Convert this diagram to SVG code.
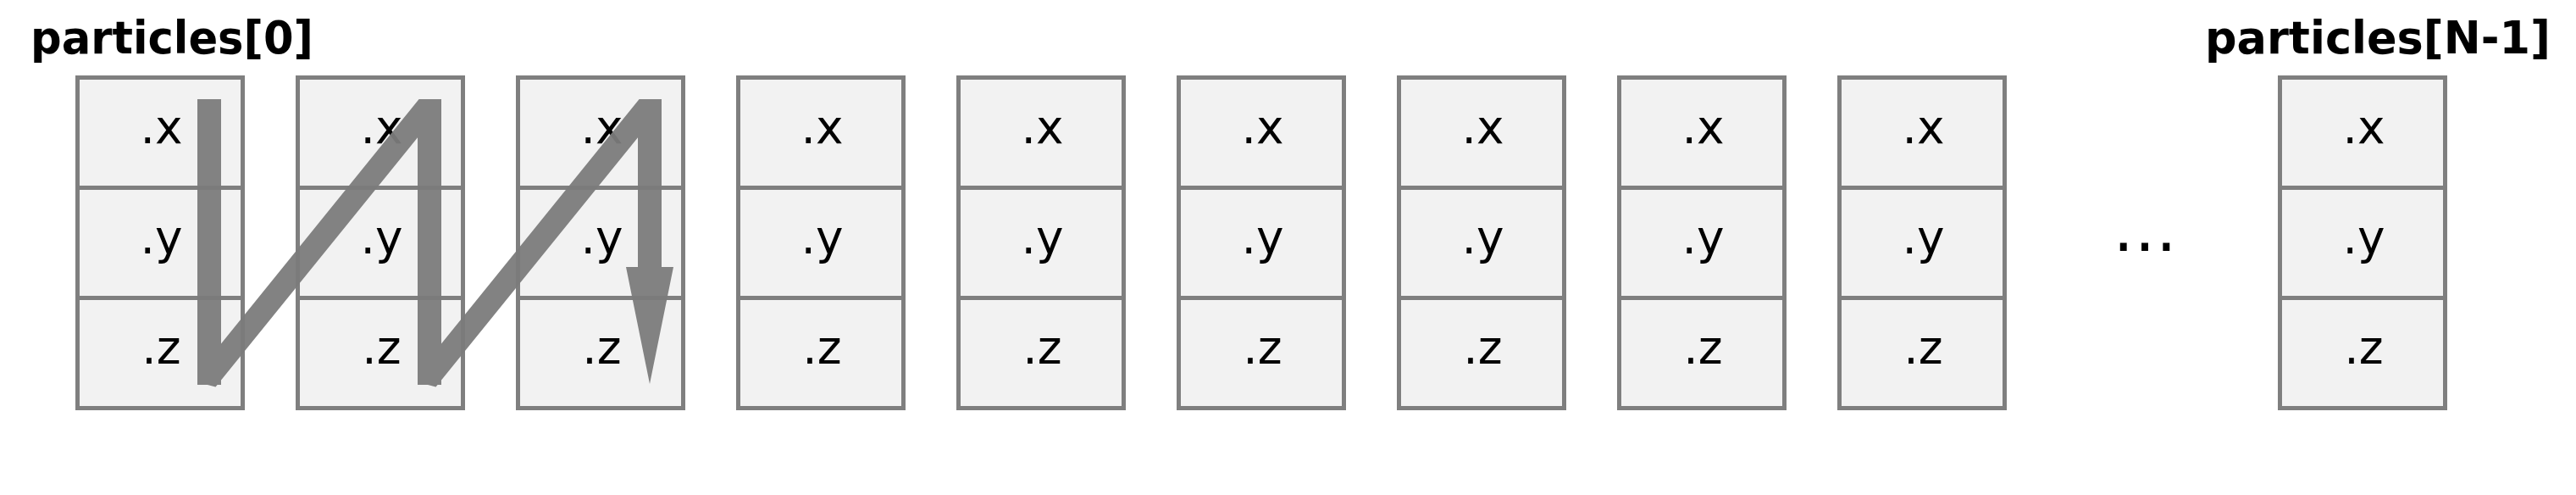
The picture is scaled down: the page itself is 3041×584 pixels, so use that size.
<svg xmlns="http://www.w3.org/2000/svg" width="3041" height="584" viewBox="0 0 3041 584">
<style>
.box{fill:#f2f2f2;stroke:#7f7f7f;stroke-width:5}
.div{stroke:#7f7f7f;stroke-width:5}
.lbl{font-family:"DejaVu Sans",sans-serif;font-size:55px;fill:#000;text-anchor:middle}
.ttl{font-family:"DejaVu Sans",sans-serif;font-size:54px;font-weight:bold;fill:#000}
</style>
<defs>
<g id="cell">
<rect class="box" x="0" y="0" width="195" height="390"/>
<line class="div" x1="0" y1="130" x2="195" y2="130"/>
<line class="div" x1="0" y1="260" x2="195" y2="260"/>
<text class="lbl" x="99" y="77.5">.x</text>
<text class="lbl" x="99" y="207.5">.y</text>
<text class="lbl" x="99" y="337.5">.z</text>
</g>
</defs>
<text class="ttl" x="36" y="63" textLength="334" lengthAdjust="spacingAndGlyphs">particles[0]</text>
<text class="ttl" x="3011" y="63" text-anchor="end" textLength="408" lengthAdjust="spacingAndGlyphs">particles[N-1]</text>
<g id="p0"><use href="#cell" x="91.5" y="91.5"/></g>
<g id="p1"><use href="#cell" x="351.5" y="91.5"/></g>
<g id="p2"><use href="#cell" x="611.5" y="91.5"/></g>
<g id="p3"><use href="#cell" x="871.5" y="91.5"/></g>
<g id="p4"><use href="#cell" x="1131.5" y="91.5"/></g>
<g id="p5"><use href="#cell" x="1391.5" y="91.5"/></g>
<g id="p6"><use href="#cell" x="1651.5" y="91.5"/></g>
<g id="p7"><use href="#cell" x="1911.5" y="91.5"/></g>
<g id="p8"><use href="#cell" x="2171.5" y="91.5"/></g>
<g id="pN"><use href="#cell" x="2691.5" y="91.5"/></g>
<text id="ellipsis" x="2532" y="296" font-family="DejaVu Sans, sans-serif" font-size="76" text-anchor="middle" fill="#000">…</text>
<g id="connectors">
<polygon fill="#7b7b7b" fill-opacity="0.95" points="233,117 261,117 261,405.4 494.6,117 521,117 521,405.4 754.6,117 781,117 781,315 795,315 767,453 739,315 753,315 753,162.2 521,448.6 521,454 516.6,454 514.5,456.5 505,454 493,454 493,162.2 261,448.6 261,454 256.6,454 254.5,456.5 245,454 233,454"/>
</g>
</svg>
